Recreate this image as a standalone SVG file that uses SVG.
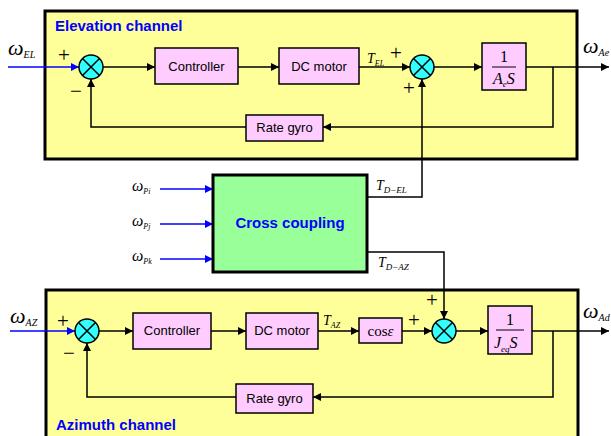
<svg xmlns="http://www.w3.org/2000/svg" width="611" height="436" viewBox="0 0 611 436">
<defs>
<marker id="ah" viewBox="0 0 10 10" refX="10" refY="5" markerWidth="8" markerHeight="8" markerUnits="userSpaceOnUse" orient="auto"><path d="M0,0 L10,5 L0,10 z" fill="#000"/></marker>
<marker id="ahb" viewBox="0 0 10 10" refX="10" refY="5" markerWidth="8" markerHeight="8" markerUnits="userSpaceOnUse" orient="auto"><path d="M0,0 L10,5 L0,10 z" fill="#0000ff"/></marker>
</defs>
<style>
.ch{fill:#ffff99;stroke:#000;stroke-width:3}
.blk{fill:#ffccff;stroke:#000;stroke-width:1.5}
.sum{fill:#33ffff;stroke:#000;stroke-width:1.5}
.cc{fill:#99ff99;stroke:#000;stroke-width:3}
.t{font-family:"Liberation Sans",Arial,sans-serif;font-size:13px;fill:#000;text-anchor:middle}
.title{font-family:"Liberation Sans",Arial,sans-serif;font-size:15px;font-weight:bold;fill:#0000ff}
.m{font-family:"Liberation Serif","Times New Roman",serif;font-style:italic;fill:#000}
.one{font-family:"Liberation Serif","Times New Roman",serif;font-size:16px;fill:#000;text-anchor:middle}
.sg{font-family:"Liberation Serif","Times New Roman",serif;font-size:21px;fill:#000;text-anchor:middle}
.w{fill:none;stroke:#000;stroke-width:1.5}
.wb{fill:none;stroke:#0000ff;stroke-width:1.5}
.x{stroke:#000;stroke-width:1.5}
</style>

<g id="elevation-channel">
<rect class="ch" x="45" y="11" width="532" height="148"/>
<text class="title" x="55" y="31">Elevation channel</text>
</g>
<g id="azimuth-channel">
<rect class="ch" x="46" y="290" width="532" height="160"/>
<text class="title" x="56" y="430">Azimuth channel</text>
</g>

<g id="connectors">
<path class="wb" d="M8,67 H79" marker-end="url(#ahb)"/>
<path class="w" d="M103,67 H155" marker-end="url(#ah)"/>
<path class="w" d="M238,67 H279" marker-end="url(#ah)"/>
<path class="w" d="M359,67 H410" marker-end="url(#ah)"/>
<path class="w" d="M434,67 H482" marker-end="url(#ah)"/>
<path class="w" d="M526,67 H609" marker-end="url(#ah)"/>
<path class="w" d="M553,67 V127 H323" marker-end="url(#ah)"/>
<path class="w" d="M246,127 H91 V79" marker-end="url(#ah)"/>
<path class="w" d="M367,197 H422 V79" marker-end="url(#ah)"/>
<path class="wb" d="M160,189 H213" marker-end="url(#ahb)"/>
<path class="wb" d="M160,224 H213" marker-end="url(#ahb)"/>
<path class="wb" d="M160,259 H213" marker-end="url(#ahb)"/>
<path class="wb" d="M10,331 H75" marker-end="url(#ahb)"/>
<path class="w" d="M99,331 H133" marker-end="url(#ah)"/>
<path class="w" d="M211,331 H246" marker-end="url(#ah)"/>
<path class="w" d="M318,331 H359" marker-end="url(#ah)"/>
<path class="w" d="M402,331 H432" marker-end="url(#ah)"/>
<path class="w" d="M456,331 H488" marker-end="url(#ah)"/>
<path class="w" d="M532,331 H609" marker-end="url(#ah)"/>
<path class="w" d="M553,331 V397 H313" marker-end="url(#ah)"/>
<path class="w" d="M236,397 H87 V343" marker-end="url(#ah)"/>
<path class="w" d="M367,252 H444 V319" marker-end="url(#ah)"/>
</g>

<g id="el-sum1">
<circle class="sum" cx="91" cy="67" r="12"/>
<path class="x" d="M82.5,58.5 L99.5,75.5 M99.5,58.5 L82.5,75.5"/>
<text class="sg" x="64" y="62">+</text>
<text class="sg" x="76" y="98">−</text>
</g>
<g id="el-controller">
<rect class="blk" x="155" y="48" width="83" height="36"/>
<text class="t" x="196.5" y="71">Controller</text>
</g>
<g id="el-dcmotor">
<rect class="blk" x="279" y="48" width="80" height="36"/>
<text class="t" x="319" y="71">DC motor</text>
</g>
<g id="el-sum2">
<circle class="sum" cx="422" cy="67" r="12"/>
<path class="x" d="M413.5,58.5 L430.5,75.5 M430.5,58.5 L413.5,75.5"/>
<text class="sg" x="396" y="60">+</text>
<text class="sg" x="409" y="95">+</text>
</g>
<g id="el-plant">
<rect class="blk" x="482" y="43" width="44" height="47"/>
<text class="one" x="504" y="62">1</text>
<path d="M492,67 H516" stroke="#000" stroke-width="1"/>
<text class="m" x="493" y="84" font-size="16">A<tspan font-size="9" dy="3">e</tspan><tspan dy="-3">S</tspan></text>
</g>
<g id="el-rategyro">
<rect class="blk" x="246" y="115" width="77" height="26"/>
<text class="t" x="284.5" y="132">Rate gyro</text>
</g>

<g id="cross-coupling">
<rect class="cc" x="213" y="175" width="154" height="97"/>
<text x="290" y="228" font-family="Liberation Sans,Arial,sans-serif" font-size="15" font-weight="bold" fill="#0000ff" text-anchor="middle">Cross coupling</text>
</g>

<g id="az-sum1">
<circle class="sum" cx="87" cy="331" r="12"/>
<path class="x" d="M78.5,322.5 L95.5,339.5 M95.5,322.5 L78.5,339.5"/>
<text class="sg" x="63" y="328">+</text>
<text class="sg" x="69" y="360">−</text>
</g>
<g id="az-controller">
<rect class="blk" x="133" y="313" width="78" height="36"/>
<text class="t" x="172" y="335">Controller</text>
</g>
<g id="az-dcmotor">
<rect class="blk" x="246" y="313" width="72" height="36"/>
<text class="t" x="282" y="335">DC motor</text>
</g>
<g id="az-cos">
<rect class="blk" x="359" y="318" width="43" height="25"/>
<text x="380.5" y="336" font-family="Liberation Serif,Times New Roman,serif" font-size="15" text-anchor="middle">cos<tspan font-style="italic">ε</tspan></text>
</g>
<g id="az-sum2">
<circle class="sum" cx="444" cy="331" r="12"/>
<path class="x" d="M435.5,322.5 L452.5,339.5 M452.5,322.5 L435.5,339.5"/>
<text class="sg" x="414" y="327">+</text>
<text class="sg" x="432" y="307">+</text>
</g>
<g id="az-plant">
<rect class="blk" x="488" y="306" width="44" height="48"/>
<text class="one" x="510" y="325">1</text>
<path d="M496,330 H524" stroke="#000" stroke-width="1"/>
<text class="m" x="494" y="348" font-size="16">J<tspan font-size="9" dy="4">eq</tspan><tspan dy="-4">S</tspan></text>
</g>
<g id="az-rategyro">
<rect class="blk" x="236" y="384" width="77" height="29"/>
<text class="t" x="274.5" y="403">Rate gyro</text>
</g>

<g id="labels">
<text class="m" x="8" y="55" font-size="22">ω<tspan font-size="10" dy="3">EL</tspan></text>
<text class="m" x="583" y="53" font-size="22">ω<tspan font-size="10" dy="3">Ae</tspan></text>
<text class="m" x="367" y="63" font-size="14">T<tspan font-size="8" dy="3">EL</tspan></text>
<text class="m" x="132" y="191" font-size="16">ω<tspan font-size="8" dy="3">Pi</tspan></text>
<text class="m" x="132" y="226" font-size="16">ω<tspan font-size="8" dy="3">Pj</tspan></text>
<text class="m" x="132" y="261" font-size="16">ω<tspan font-size="8" dy="3">Pk</tspan></text>
<text class="m" x="376" y="190" font-size="14">T<tspan font-size="9" dy="3">D−EL</tspan></text>
<text class="m" x="378" y="267" font-size="14">T<tspan font-size="9" dy="3">D−AZ</tspan></text>
<text class="m" x="10" y="323" font-size="22">ω<tspan font-size="10" dy="3">AZ</tspan></text>
<text class="m" x="323" y="325" font-size="14">T<tspan font-size="8" dy="3">AZ</tspan></text>
<text class="m" x="583" y="318" font-size="22">ω<tspan font-size="10" dy="3">Ad</tspan></text>
</g>
</svg>
